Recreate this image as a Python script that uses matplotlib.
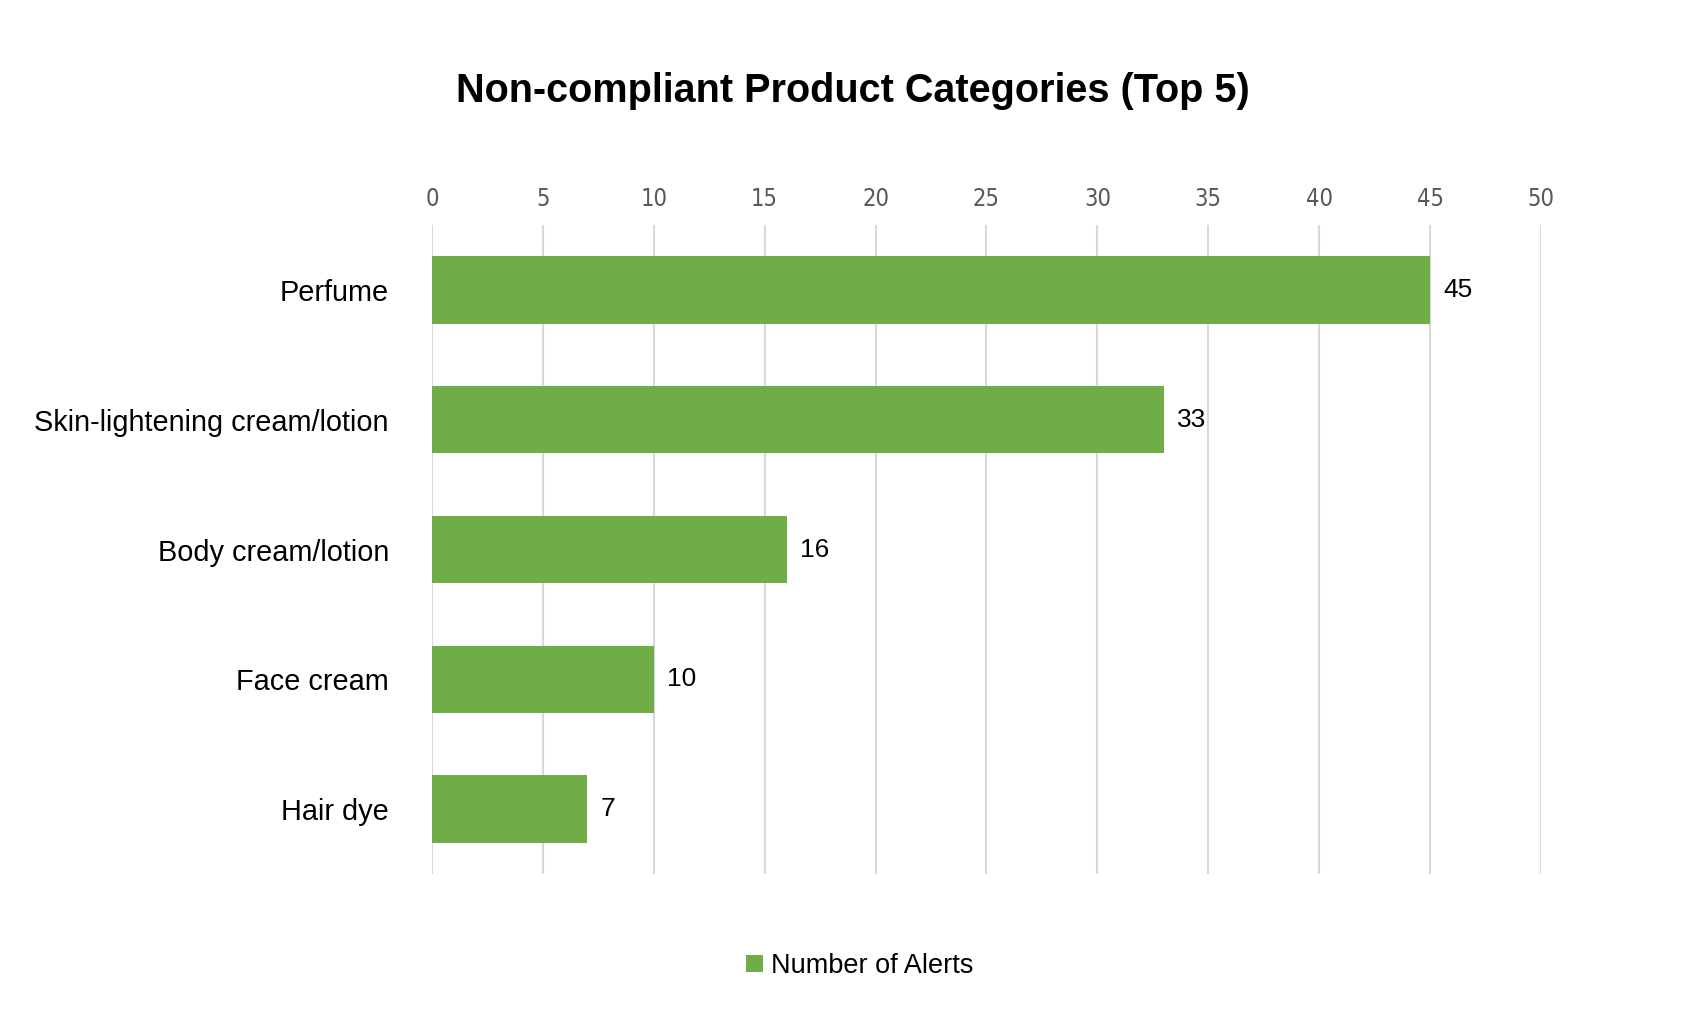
import matplotlib
matplotlib.use("Agg")
import matplotlib.pyplot as plt
from matplotlib import font_manager

categories = ["Perfume", "Skin-lightening cream/lotion", "Body cream/lotion",
              "Face cream", "Hair dye"]
alerts = [45, 33, 16, 10, 7]
x_ticks = [0, 5, 10, 15, 20, 25, 30, 35, 40, 45, 50]

GREEN = "#70AD47"
plt.rcParams["font.family"] = ["Liberation Sans", "DejaVu Sans"]

# narrow face for the tick numbers, if one is installed
names = {f.name for f in font_manager.fontManager.ttflist}
tick_family = ["Liberation Sans Narrow", "Liberation Sans"]
tick_stretch = "normal"
if "Liberation Sans Narrow" not in names:
    tick_family = ["DejaVu Sans"]
    tick_stretch = "condensed"

fig = plt.figure(figsize=(17.06, 10.34), dpi=100)
ax = fig.add_axes([0.2532, 0.1547, 0.6501, 0.6277])

y = list(range(len(categories)))
ax.barh(y, alerts, height=0.52, color=GREEN, label="Number of Alerts", zorder=3)
for yi, v in zip(y, alerts):
    ax.text(v + 0.6, yi, str(v), va="center", ha="left", fontsize=19, color="black")

ax.set_ylim(len(categories) - 0.5, -0.5)
ax.set_xlim(0, 50)
ax.set_yticks(y)
ax.set_yticklabels(categories, fontsize=20.8)
ax.set_xticks(x_ticks)
ax.xaxis.tick_top()
ax.set_xticklabels([str(t) for t in x_ticks], fontsize=17, color="#595959",
                   family=tick_family, stretch=tick_stretch)
ax.tick_params(axis="both", length=0)
ax.tick_params(axis="x", pad=10)
ax.tick_params(axis="y", pad=31)
ax.grid(axis="x", color="#D9D9D9", linewidth=1.5, zorder=0)
for s in ax.spines.values():
    s.set_visible(False)

fig.suptitle("Non-compliant Product Categories (Top 5)", fontsize=28.5,
             fontweight="bold", y=0.93)
fig.legend(loc="center", bbox_to_anchor=(0.504, 0.066), frameon=False,
           fontsize=19.5, handlelength=0.6, handleheight=0.6, handletextpad=0.3)

fig.savefig("out.png", dpi=100)
